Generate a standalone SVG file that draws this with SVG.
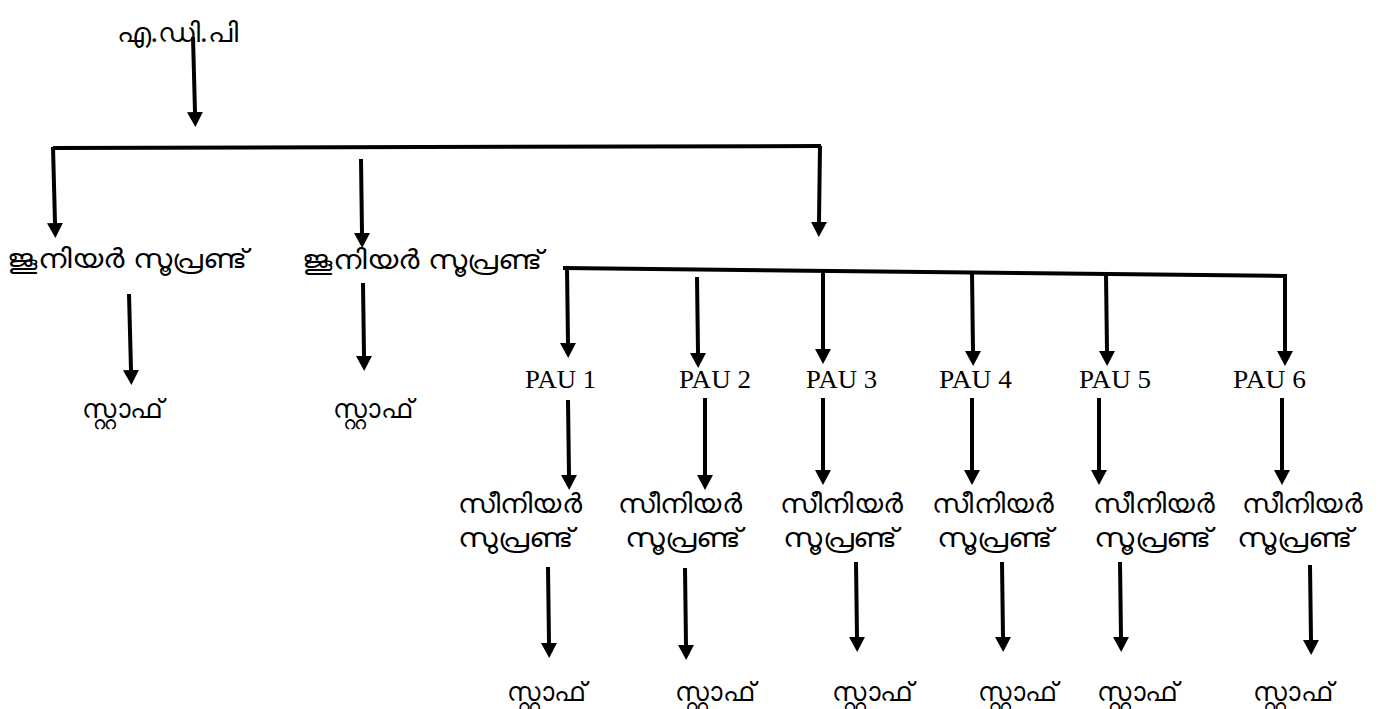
<svg xmlns="http://www.w3.org/2000/svg" width="1381" height="709" viewBox="0 0 1381 709">
<style>
  .ml { font-family: "Noto Sans", "DejaVu Sans", sans-serif; font-size: 27px; fill: #000; }
  .pau { font-family: "Liberation Serif", serif; font-size: 26px; fill: #000; }
  .c line, .c path { stroke: #000; stroke-width: 4; fill: none; }
</style>
<defs>
  <marker id="ah" viewBox="0 0 15 16" refX="0" refY="8" markerWidth="15" markerHeight="16" markerUnits="userSpaceOnUse" orient="auto">
    <path d="M0,0 L15,8 L0,16 z" fill="#000"/>
  </marker>
</defs>
<g id="connectors" class="c">
  <line x1="193" y1="37" x2="195" y2="112" marker-end="url(#ah)"/>
  <path d="M53,148 L821,146"/>
  <line x1="53" y1="147" x2="55" y2="223" marker-end="url(#ah)"/>
  <line x1="361" y1="159" x2="362" y2="233" marker-end="url(#ah)"/>
  <line x1="820" y1="146" x2="819" y2="222" marker-end="url(#ah)"/>
  <line x1="129" y1="294" x2="131" y2="370" marker-end="url(#ah)"/>
  <line x1="363" y1="283" x2="364" y2="356" marker-end="url(#ah)"/>
  <path d="M563,268 L1287,276"/>
  <line x1="567" y1="268" x2="568" y2="343" marker-end="url(#ah)"/>
  <line x1="697" y1="277" x2="698" y2="353" marker-end="url(#ah)"/>
  <line x1="823" y1="270" x2="823" y2="349" marker-end="url(#ah)"/>
  <line x1="972" y1="273" x2="973" y2="351" marker-end="url(#ah)"/>
  <line x1="1106" y1="274" x2="1107" y2="351" marker-end="url(#ah)"/>
  <line x1="1285" y1="276" x2="1285" y2="351" marker-end="url(#ah)"/>
  <line x1="568" y1="400" x2="569" y2="475" marker-end="url(#ah)"/>
  <line x1="705" y1="398" x2="705" y2="475" marker-end="url(#ah)"/>
  <line x1="823" y1="398" x2="823" y2="470" marker-end="url(#ah)"/>
  <line x1="972" y1="398" x2="972" y2="470" marker-end="url(#ah)"/>
  <line x1="1099" y1="398" x2="1099" y2="470" marker-end="url(#ah)"/>
  <line x1="1282" y1="398" x2="1282" y2="470" marker-end="url(#ah)"/>
  <line x1="548" y1="567" x2="549" y2="643" marker-end="url(#ah)"/>
  <line x1="685" y1="568" x2="686" y2="645" marker-end="url(#ah)"/>
  <line x1="856" y1="562" x2="857" y2="637" marker-end="url(#ah)"/>
  <line x1="1002" y1="562" x2="1003" y2="637" marker-end="url(#ah)"/>
  <line x1="1120" y1="562" x2="1121" y2="637" marker-end="url(#ah)"/>
  <line x1="1310" y1="565" x2="1311" y2="640" marker-end="url(#ah)"/>
</g>
<g id="adp"><text class="ml" x="117" y="42" textLength="121" lengthAdjust="spacingAndGlyphs">എ.ഡി.പി</text></g>
<g id="js1"><text class="ml" x="7" y="268" textLength="240" lengthAdjust="spacingAndGlyphs">ജൂനിയര്‍ സൂപ്രണ്ട്</text></g>
<g id="js2"><text class="ml" x="302" y="269" textLength="240" lengthAdjust="spacingAndGlyphs">ജൂനിയര്‍ സൂപ്രണ്ട്</text></g>
<g id="staff-js1"><text class="ml" x="82" y="418" textLength="81" lengthAdjust="spacingAndGlyphs">സ്റ്റാഫ്</text></g>
<g id="staff-js2"><text class="ml" x="333" y="418" textLength="80" lengthAdjust="spacingAndGlyphs">സ്റ്റാഫ്</text></g>
<g id="pau1"><text class="pau" x="525" y="388" textLength="71" lengthAdjust="spacingAndGlyphs">PAU 1</text></g>
<g id="pau2"><text class="pau" x="679" y="388" textLength="72" lengthAdjust="spacingAndGlyphs">PAU 2</text></g>
<g id="pau3"><text class="pau" x="806" y="388" textLength="71" lengthAdjust="spacingAndGlyphs">PAU 3</text></g>
<g id="pau4"><text class="pau" x="939" y="388" textLength="73" lengthAdjust="spacingAndGlyphs">PAU 4</text></g>
<g id="pau5"><text class="pau" x="1079" y="388" textLength="72" lengthAdjust="spacingAndGlyphs">PAU 5</text></g>
<g id="pau6"><text class="pau" x="1233" y="388" textLength="73" lengthAdjust="spacingAndGlyphs">PAU 6</text></g>
<g id="ss1"><text class="ml" x="458" y="513" textLength="124" lengthAdjust="spacingAndGlyphs">സീനിയര്‍</text><text class="ml" x="458" y="547" textLength="115" lengthAdjust="spacingAndGlyphs">സുപ്രണ്ട്</text></g>
<g id="ss2"><text class="ml" x="618" y="513" textLength="124" lengthAdjust="spacingAndGlyphs">സീനിയര്‍</text><text class="ml" x="625" y="547" textLength="116" lengthAdjust="spacingAndGlyphs">സൂപ്രണ്ട്</text></g>
<g id="ss3"><text class="ml" x="780" y="513" textLength="123" lengthAdjust="spacingAndGlyphs">സീനിയര്‍</text><text class="ml" x="783" y="547" textLength="114" lengthAdjust="spacingAndGlyphs">സൂപ്രണ്ട്</text></g>
<g id="ss4"><text class="ml" x="932" y="513" textLength="122" lengthAdjust="spacingAndGlyphs">സീനിയര്‍</text><text class="ml" x="937" y="547" textLength="115" lengthAdjust="spacingAndGlyphs">സൂപ്രണ്ട്</text></g>
<g id="ss5"><text class="ml" x="1093" y="513" textLength="122" lengthAdjust="spacingAndGlyphs">സീനിയര്‍</text><text class="ml" x="1094" y="547" textLength="117" lengthAdjust="spacingAndGlyphs">സൂപ്രണ്ട്</text></g>
<g id="ss6"><text class="ml" x="1242" y="513" textLength="121" lengthAdjust="spacingAndGlyphs">സീനിയര്‍</text><text class="ml" x="1237" y="547" textLength="115" lengthAdjust="spacingAndGlyphs">സൂപ്രണ്ട്</text></g>
<g id="staff1"><text class="ml" x="507" y="701" textLength="79" lengthAdjust="spacingAndGlyphs">സ്റ്റാഫ്</text></g>
<g id="staff2"><text class="ml" x="675" y="701" textLength="80" lengthAdjust="spacingAndGlyphs">സ്റ്റാഫ്</text></g>
<g id="staff3"><text class="ml" x="832" y="701" textLength="81" lengthAdjust="spacingAndGlyphs">സ്റ്റാഫ്</text></g>
<g id="staff4"><text class="ml" x="978" y="701" textLength="79" lengthAdjust="spacingAndGlyphs">സ്റ്റാഫ്</text></g>
<g id="staff5"><text class="ml" x="1097" y="701" textLength="81" lengthAdjust="spacingAndGlyphs">സ്റ്റാഫ്</text></g>
<g id="staff6"><text class="ml" x="1253" y="701" textLength="80" lengthAdjust="spacingAndGlyphs">സ്റ്റാഫ്</text></g>
</svg>
